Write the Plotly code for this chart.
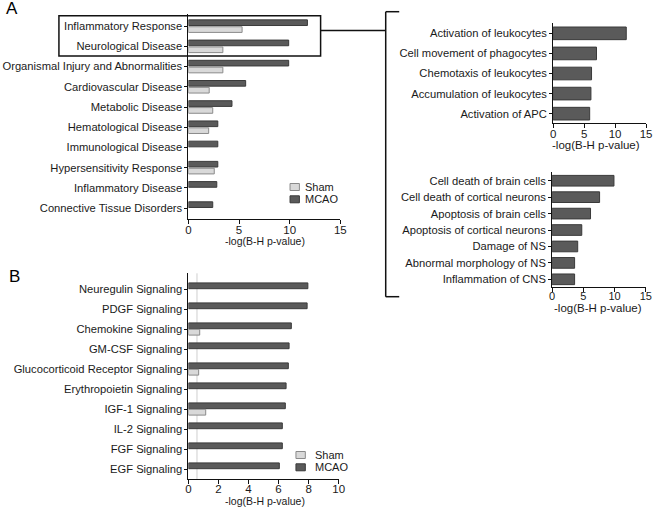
import plotly.graph_objects as go

# ---------------- data ----------------
cats_a = ["Inflammatory Response", "Neurological Disease", "Organismal Injury and Abnormalities",
          "Cardiovascular Disease", "Metabolic Disease", "Hematological Disease",
          "Immunological Disease", "Hypersensitivity Response", "Inflammatory Disease",
          "Connective Tissue Disorders"]
mcao_a = [11.75, 9.9, 9.9, 5.65, 4.3, 2.9, 2.9, 2.9, 2.8, 2.4]
sham_a = [5.3, 3.4, 3.4, 2.05, 2.4, 2.0, None, 2.55, None, None]

cats_infl = ["Activation of leukocytes", "Cell movement of phagocytes", "Chemotaxis of leukocytes",
             "Accumulation of leukocytes", "Activation of APC"]
vals_infl = [11.8, 7.0, 6.2, 6.1, 5.9]

cats_neuro = ["Cell death of brain cells", "Cell death of cortical neurons", "Apoptosis of brain cells",
              "Apoptosis of cortical neurons", "Damage of NS", "Abnormal morphology of NS",
              "Inflammation of CNS"]
vals_neuro = [9.9, 7.6, 6.15, 4.75, 4.1, 3.6, 3.6]

cats_b = ["Neuregulin Signaling", "PDGF Signaling", "Chemokine Signaling", "GM-CSF Signaling",
          "Glucocorticoid Receptor Signaling", "Erythropoietin Signaling", "IGF-1 Signaling",
          "IL-2 Signaling", "FGF Signaling", "EGF Signaling"]
mcao_b = [7.95, 7.9, 6.85, 6.7, 6.65, 6.5, 6.45, 6.25, 6.25, 6.05]
sham_b = [None, None, 0.75, None, 0.68, None, 1.15, None, None, None]
threshold_b = 0.57

ticks_a = [0, 5, 10, 15]
ticks_b = [0, 2, 4, 6, 8, 10]
x_title = "-log(B-H p-value)"
series_names = ["Sham", "MCAO"]

# ---------------- style ----------------
W, H = 660, 508
MCAO_FILL, MCAO_LINE = "#5a5a5a", "#3a3a3a"
SHAM_FILL, SHAM_LINE = "#d9d9d9", "#8a8a8a"
FONT = "Liberation Sans, Arial, sans-serif"
TXT = "#1a1a1a"


def px(x):
    return x / W


def py(y):
    return 1 - y / H


fig = go.Figure()

# Panel A main
fig.add_trace(go.Bar(x=mcao_a, y=cats_a, orientation="h", offset=-0.31, width=0.28,
                     marker=dict(color=MCAO_FILL, line=dict(color=MCAO_LINE, width=1)),
                     xaxis="x", yaxis="y", name="MCAO", showlegend=False))
fig.add_trace(go.Bar(x=sham_a, y=cats_a, orientation="h", offset=0.03, width=0.28,
                     marker=dict(color=SHAM_FILL, line=dict(color=SHAM_LINE, width=1)),
                     xaxis="x", yaxis="y", name="Sham", showlegend=False))
# Right upper
fig.add_trace(go.Bar(x=vals_infl, y=cats_infl, orientation="h", offset=-0.315, width=0.63,
                     marker=dict(color=MCAO_FILL, line=dict(color=MCAO_LINE, width=1)),
                     xaxis="x2", yaxis="y2", showlegend=False))
# Right lower
fig.add_trace(go.Bar(x=vals_neuro, y=cats_neuro, orientation="h", offset=-0.325, width=0.65,
                     marker=dict(color=MCAO_FILL, line=dict(color=MCAO_LINE, width=1)),
                     xaxis="x3", yaxis="y3", showlegend=False))
# Panel B
fig.add_trace(go.Bar(x=mcao_b, y=cats_b, orientation="h", offset=-0.32, width=0.29,
                     marker=dict(color=MCAO_FILL, line=dict(color=MCAO_LINE, width=1)),
                     xaxis="x4", yaxis="y4", showlegend=False))
fig.add_trace(go.Bar(x=sham_b, y=cats_b, orientation="h", offset=0.0, width=0.29,
                     marker=dict(color=SHAM_FILL, line=dict(color=SHAM_LINE, width=1)),
                     xaxis="x4", yaxis="y4", showlegend=False))


def xax(dom, rng, tickvals, anchor, size=11.5, standoff=-4):
    return dict(domain=[px(dom[0]), px(dom[1])], range=rng, tickvals=tickvals, anchor=anchor,
                showgrid=False, zeroline=False, showline=True, linecolor="#111", linewidth=1,
                ticks="outside", ticklen=4, tickwidth=1, tickcolor="#111", ticklabelstandoff=standoff,
                tickfont=dict(size=size, color=TXT, family=FONT), fixedrange=True)


def yax(dom, cats, lo, hi, anchor):
    return dict(domain=[py(dom[0]), py(dom[1])], type="category", categoryorder="array",
                categoryarray=cats, range=[len(cats) - 1 + hi, lo], anchor=anchor,
                showgrid=False, zeroline=False, showline=True, linecolor="#111", linewidth=1,
                ticks="outside", ticklen=3, tickwidth=1, tickcolor="#111",
                tickfont=dict(size=11.2, color=TXT, family=FONT), fixedrange=True)


fig.update_layout(
    width=W, height=H, margin=dict(l=0, r=0, t=0, b=0),
    paper_bgcolor="white", plot_bgcolor="white", barmode="overlay",
    font=dict(family=FONT, color=TXT),
    xaxis=xax((188, 342), [0, 15], ticks_a, "y"),
    yaxis=yax((219, 14), cats_a, -0.6, 0.54, "x"),
    xaxis2=xax((557.7, 652), [0, 15], ticks_a, "y2"),
    yaxis2=yax((123.3, 23.3), cats_infl, -0.5, 0.48, "x2"),
    xaxis3=xax((556.7, 651.7), [0, 15], ticks_a, "y3", size=11, standoff=-5),
    yaxis3=yax((286.7, 171.7), cats_neuro, -0.55, 0.45, "x3"),
    xaxis4=xax((188, 340.3), [0, 10], ticks_b, "y4", standoff=-5),
    yaxis4=yax((479, 273.3), cats_b, -0.8, 0.485, "x4"),
)

shapes = []
# highlight box and bracket connector
line_style = dict(color="#111", width=1.5)
shapes.append(dict(type="rect", xref="paper", yref="paper", x0=px(56.7), x1=px(322),
                   y0=py(56), y1=py(15.7), line=line_style))
shapes.append(dict(type="line", xref="paper", yref="paper", x0=px(322), x1=px(388),
                   y0=py(30.5), y1=py(30.5), line=line_style))
shapes.append(dict(type="line", xref="paper", yref="paper", x0=px(388), x1=px(388),
                   y0=py(11.7), y1=py(296.7), line=line_style))
shapes.append(dict(type="line", xref="paper", yref="paper", x0=px(388), x1=px(401.7),
                   y0=py(11.7), y1=py(11.7), line=line_style))
shapes.append(dict(type="line", xref="paper", yref="paper", x0=px(388), x1=px(401.7),
                   y0=py(296.7), y1=py(296.7), line=line_style))
# threshold line in panel B
shapes.append(dict(type="line", xref="x4", yref="y4 domain", x0=threshold_b, x1=threshold_b,
                   y0=0, y1=1, line=dict(color="#cfcfcf", width=1), layer="below"))

annotations = [
    dict(text="A", x=px(9), y=py(9), xref="paper", yref="paper", showarrow=False,
         font=dict(size=17, color="#000", family=FONT), xanchor="center", yanchor="middle"),
    dict(text="B", x=px(12), y=py(276), xref="paper", yref="paper", showarrow=False,
         font=dict(size=17, color="#000", family=FONT), xanchor="center", yanchor="middle"),
]

# x-axis titles
for xc, yc, size in [(266, 240.5, 10.5), (601, 145.5, 11.5), (603, 307.5, 11.5), (266, 501, 10.5)]:
    annotations.append(dict(text=x_title, x=px(xc), y=py(yc), xref="paper", yref="paper",
                            showarrow=False, xanchor="center", yanchor="middle",
                            font=dict(size=size, color=TXT, family=FONT)))


# manual legends (Sham, MCAO)
def legend(x_patch, y_first, dy, x_text):
    for i, (name, fill, ln) in enumerate(zip(series_names, [SHAM_FILL, MCAO_FILL], [SHAM_LINE, MCAO_LINE])):
        yc = y_first + i * dy
        shapes.append(dict(type="rect", xref="paper", yref="paper", x0=px(x_patch), x1=px(x_patch + 9.5),
                           y0=py(yc + 3.5), y1=py(yc - 3.5), fillcolor=fill, line=dict(color=ln, width=1)))
        annotations.append(dict(text=name, x=px(x_text), y=py(yc), xref="paper", yref="paper",
                                showarrow=False, xanchor="left", yanchor="middle",
                                font=dict(size=11, color=TXT, family=FONT)))


legend(291, 187, 12.3, 304)
legend(297, 455, 12.3, 314)

fig.update_layout(shapes=shapes, annotations=annotations)
fig.write_html("out.html", config={"displayModeBar": False},
               post_script="document.body.style.margin='0';")
